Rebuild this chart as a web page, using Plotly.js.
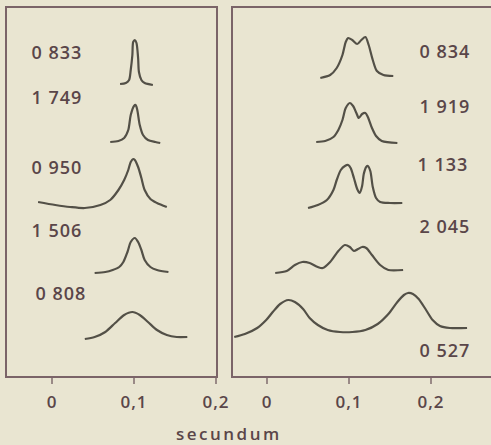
<!DOCTYPE html>
<html>
<head>
<meta charset="utf-8">
<script src="https://cdn.plot.ly/plotly-3.0.1.min.js"></script>
<style>
  html, body { margin: 0; padding: 0; background: #e9e5d1; }
  #chart { width: 491px; height: 445px; }
  .main-svg text { letter-spacing: 1px; }
  .main-svg .annotation:last-child text { letter-spacing: 2.5px; }
</style>
</head>
<body>
<div id="chart"></div>
<script>
// ---- Data (x in seconds, y in arbitrary stacked units) ----
const tickVals = [0, 0.1, 0.2];
const tickText = ['0', '0,1', '0,2'];
const xTitle = 'secundum';

// Left panel
const leftLabels = ['0 833', '1 749', '0 950', '1 506', '0 808'];
const L1x = [0.083, 0.090, 0.094, 0.096, 0.098, 0.099, 0.101, 0.103, 0.105, 0.106, 0.109, 0.113, 0.123];
const L1y = [29.2, 29.3, 29.6, 30.6, 32.1, 33.4, 33.6, 33.3, 31.8, 30.4, 29.6, 29.3, 29.1];
const L2x = [0.071, 0.081, 0.088, 0.093, 0.096, 0.100, 0.102, 0.104, 0.107, 0.111, 0.117, 0.126, 0.132];
const L2y = [23.4, 23.5, 23.8, 24.6, 26.1, 27.0, 27.1, 26.6, 25.1, 24.1, 23.6, 23.4, 23.3];
const L3x = [-0.017, 0.004, 0.022, 0.040, 0.059, 0.071, 0.081, 0.088, 0.093, 0.096, 0.099, 0.101, 0.105, 0.109, 0.113, 0.120, 0.128, 0.140];
const L3y = [17.4, 17.1, 16.9, 16.8, 17.1, 17.6, 18.6, 19.6, 20.6, 21.4, 21.7, 21.6, 20.9, 19.8, 18.6, 17.7, 17.3, 16.9];
const L4x = [0.052, 0.065, 0.074, 0.082, 0.087, 0.092, 0.096, 0.101, 0.105, 0.109, 0.113, 0.120, 0.128, 0.142];
const L4y = [10.3, 10.4, 10.6, 10.9, 11.4, 12.4, 13.4, 13.8, 13.4, 12.6, 11.6, 10.9, 10.6, 10.4];
const L5x = [0.040, 0.052, 0.065, 0.077, 0.088, 0.098, 0.107, 0.117, 0.128, 0.140, 0.152, 0.165];
const L5y = [3.7, 3.9, 4.4, 5.3, 6.1, 6.4, 6.1, 5.4, 4.6, 4.1, 3.9, 3.9];

// Right panel
const rightLabels = ['0 834', '1 919', '1 133', '2 045', '0 527'];
const R1x = [0.065, 0.077, 0.085, 0.092, 0.096, 0.099, 0.104, 0.110, 0.115, 0.120, 0.124, 0.129, 0.134, 0.142, 0.154];
const R1y = [29.8, 30.1, 30.8, 32.1, 33.4, 33.8, 33.6, 33.2, 33.6, 33.9, 33.1, 31.6, 30.5, 30.1, 30.0];
const R2x = [0.060, 0.071, 0.081, 0.087, 0.092, 0.096, 0.101, 0.105, 0.109, 0.112, 0.116, 0.120, 0.123, 0.128, 0.133, 0.140, 0.159];
const R2y = [23.4, 23.5, 23.9, 24.6, 25.6, 26.8, 27.3, 27.0, 26.3, 25.8, 26.2, 26.3, 25.9, 24.8, 24.0, 23.5, 23.3];
const R3x = [0.050, 0.062, 0.073, 0.081, 0.085, 0.090, 0.095, 0.099, 0.102, 0.106, 0.110, 0.113, 0.116, 0.118, 0.121, 0.123, 0.126, 0.129, 0.133, 0.138, 0.150, 0.165];
const R3y = [16.8, 17.1, 17.6, 18.6, 19.6, 20.6, 21.0, 21.1, 20.8, 19.8, 18.7, 18.3, 19.0, 20.2, 20.9, 21.0, 20.5, 18.9, 17.8, 17.4, 17.3, 17.3];
const R4x = [0.010, 0.024, 0.034, 0.043, 0.052, 0.062, 0.068, 0.077, 0.087, 0.095, 0.101, 0.106, 0.111, 0.116, 0.121, 0.128, 0.138, 0.148, 0.166];
const R4y = [10.3, 10.5, 11.1, 11.4, 11.3, 10.9, 10.8, 11.4, 12.5, 13.1, 12.9, 12.5, 12.7, 12.9, 12.8, 12.1, 11.1, 10.6, 10.6];
const R5x = [-0.040, -0.027, -0.012, -0.001, 0.007, 0.016, 0.026, 0.034, 0.044, 0.052, 0.062, 0.074, 0.089, 0.104, 0.120, 0.135, 0.148, 0.159, 0.167, 0.172, 0.178, 0.185, 0.194, 0.202, 0.211, 0.223, 0.244];
const R5y = [3.9, 4.2, 4.8, 5.6, 6.4, 7.2, 7.6, 7.4, 6.7, 5.8, 5.1, 4.6, 4.4, 4.4, 4.6, 5.2, 6.2, 7.4, 8.1, 8.3, 8.2, 7.7, 6.6, 5.6, 5.0, 4.8, 4.8];

// ---- Styling / layout ----
const curveColor = '#535047';
const frameColor = '#7b6468';
const textColor = '#5a4649';
const bg = '#e9e5d1';
const fontFam = '"Open Sans", "DejaVu Sans", sans-serif';

function curve(x, y, xa, ya) {
  return { x: x, y: y, xaxis: xa, yaxis: ya, type: 'scatter', mode: 'lines',
    line: { color: curveColor, width: 2.2, shape: 'spline', smoothing: 0.8 },
    hoverinfo: 'skip', showlegend: false };
}

const traces = [
  curve(L1x, L1y, 'x', 'y'), curve(L2x, L2y, 'x', 'y'), curve(L3x, L3y, 'x', 'y'),
  curve(L4x, L4y, 'x', 'y'), curve(L5x, L5y, 'x', 'y'),
  curve(R1x, R1y, 'x2', 'y2'), curve(R2x, R2y, 'x2', 'y2'), curve(R3x, R3y, 'x2', 'y2'),
  curve(R4x, R4y, 'x2', 'y2'), curve(R5x, R5y, 'x2', 'y2')
];

// label placements (layout, not data)
const leftLabelPos = [[0.006, 32.4], [0.006, 27.9], [0.006, 20.9], [0.006, 14.6], [0.011, 8.3]];
const rightLabelPos = [[0.217, 32.5], [0.217, 27.0], [0.215, 21.2], [0.217, 15.0], [0.217, 2.6]];

const lblFont = { family: fontFam, size: 18, color: textColor, weight: 600 };
const annotations = [];
leftLabels.forEach((t, i) => annotations.push({
  text: t, x: leftLabelPos[i][0], y: leftLabelPos[i][1], xref: 'x', yref: 'y',
  showarrow: false, xanchor: 'center', yanchor: 'middle', font: lblFont
}));
rightLabels.forEach((t, i) => annotations.push({
  text: t, x: rightLabelPos[i][0], y: rightLabelPos[i][1], xref: 'x2', yref: 'y2',
  showarrow: false, xanchor: 'center', yanchor: 'middle', font: lblFont
}));
annotations.push({
  text: xTitle, x: 229 / 491, y: 1 - 433 / 445, xref: 'paper', yref: 'paper',
  showarrow: false, xanchor: 'center', yanchor: 'middle',
  font: { family: fontFam, size: 17, color: textColor, weight: 600 }
});

const yDom = [1 - 376 / 445, 1 - 8 / 445];
const axBase = {
  showgrid: false, zeroline: false, showline: true, linecolor: frameColor, linewidth: 2,
  ticks: 'outside', ticklen: 6, tickwidth: 1.5, tickcolor: '#9a8a86',
  tickvals: tickVals, ticktext: tickText, ticklabelstandoff: 4,
  tickfont: { family: fontFam, size: 17, color: textColor, weight: 600 }
};

const layout = {
  width: 491, height: 445,
  margin: { l: 0, r: 0, t: 0, b: 0 },
  paper_bgcolor: bg, plot_bgcolor: bg,
  showlegend: false,
  xaxis: Object.assign({}, axBase, { domain: [7 / 491, 216 / 491], range: [-0.0549, 0.2], mirror: true, anchor: 'y' }),
  yaxis: { domain: yDom, range: [0, 36.8], showgrid: false, zeroline: false, showline: true, mirror: true,
           linecolor: frameColor, linewidth: 2, showticklabels: false, ticks: '', anchor: 'x' },
  xaxis2: Object.assign({}, axBase, { domain: [233 / 491, 1], range: [-0.0415, 0.2732], mirror: true, anchor: 'y2' }),
  yaxis2: { domain: yDom, range: [0, 36.8], showgrid: false, zeroline: false, showline: true, mirror: false,
            linecolor: frameColor, linewidth: 2, showticklabels: false, ticks: '', anchor: 'x2' },
  annotations: annotations
};

Plotly.newPlot('chart', traces, layout, { displayModeBar: false, staticPlot: true });
</script>
</body>
</html>
